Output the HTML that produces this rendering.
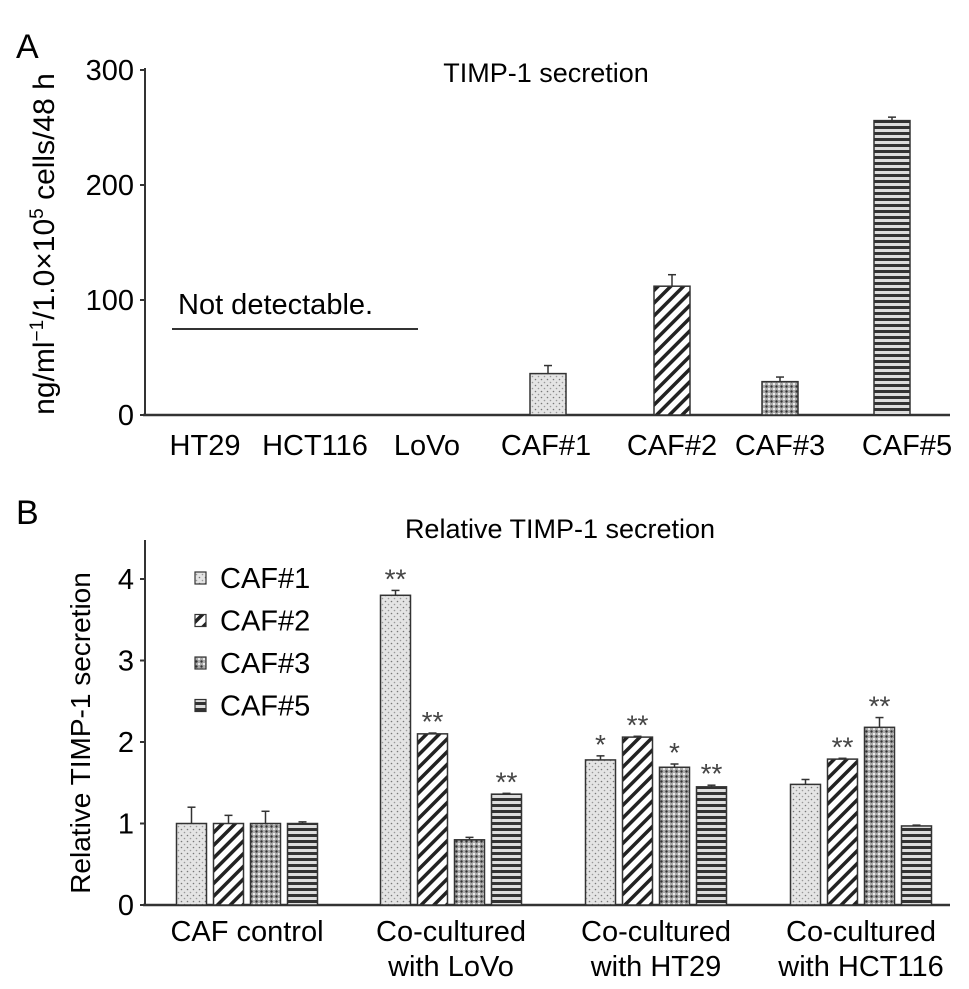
<!DOCTYPE html>
<html><head><meta charset="utf-8"><style>
body{margin:0;background:#fff}
svg{display:block;font-family:"Liberation Sans",sans-serif}
</style></head><body>
<svg id="c" width="969" height="989" viewBox="0 0 969 989">
<defs>
<pattern id="p1" width="6" height="6" patternUnits="userSpaceOnUse"><rect width="6" height="6" fill="#e4e4e4"/><circle cx="1.5" cy="1.5" r="0.8" fill="#777"/><circle cx="4.5" cy="4.5" r="0.8" fill="#999"/></pattern>
<pattern id="p2" width="9" height="9" patternUnits="userSpaceOnUse" patternTransform="rotate(45)"><rect width="9" height="9" fill="#fff"/><rect width="3.5" height="9" fill="#222"/></pattern>
<pattern id="p3" width="5" height="5" patternUnits="userSpaceOnUse"><rect width="5" height="5" fill="#aaa"/><circle cx="1.5" cy="1.5" r="1.2" fill="#333"/><circle cx="4" cy="4" r="1" fill="#fff"/></pattern>
<pattern id="p5" width="6" height="6" patternUnits="userSpaceOnUse"><rect width="6" height="6" fill="#ddd"/><rect y="0" width="6" height="3" fill="#333"/></pattern>
</defs>
<g id="A"></g><g id="B"></g>
</svg>
<script>
const NS="http://www.w3.org/2000/svg";
function mk(p,t,a,txt){const e=document.createElementNS(NS,t);for(const k in a)e.setAttribute(k,a[k]);if(txt!=null)e.textContent=txt;p.appendChild(e);return e;}
// Panel A data
const aCats=["HT29","HCT116","LoVo","CAF#1","CAF#2","CAF#3","CAF#5"];
const aVals=[null,null,null,36,112,29,256];
const aErr=[0,0,0,7,10,4,3];
const aTicks=[0,100,200,300];
const aPat=[null,null,null,"p1","p2","p3","p5"];
// Panel B data
const bGroups=["CAF control","Co-cultured|with LoVo","Co-cultured|with HT29","Co-cultured|with HCT116"];
const bSeries=["CAF#1","CAF#2","CAF#3","CAF#5"];
const bCaf1=[1,3.8,1.78,1.48];
const bCaf2=[1,2.1,2.06,1.79];
const bCaf3=[1,0.8,1.69,2.18];
const bCaf5=[1,1.36,1.45,0.97];
const bErr1=[0.2,0.06,0.05,0.06];
const bErr2=[0.1,0.01,0.01,0.01];
const bErr3=[0.15,0.03,0.04,0.12];
const bErr5=[0.02,0.01,0.02,0.01];
const bStars1=["","**","*",""];
const bStars2=["","**","**","**"];
const bStars3=["","","*","**"];
const bStars5=["","**","**",""];
const bTicks=[0,1,2,3,4];

const A=document.getElementById("A"),B=document.getElementById("B");
// ----- Panel A
const ay=v=>415-v*1.15;
const ax=i=>[205,315,427,546,672,780,907][i];
const bxA=i=>[205,315,427,548,672,780,892][i];
let t=mk(A,"text",{x:16,y:58,"font-size":34},"A");
t=mk(A,"text",{x:546,y:82,"font-size":27,"text-anchor":"middle"},"TIMP-1 secretion");
t=mk(A,"line",{x1:145,y1:68,x2:145,y2:415,stroke:"#333","stroke-width":2});
t=mk(A,"line",{x1:143,y1:415,x2:950,y2:415,stroke:"#333","stroke-width":2.5});
aTicks.forEach(v=>{mk(A,"line",{x1:140,y1:ay(v),x2:145,y2:ay(v),stroke:"#333","stroke-width":2});
 const e=mk(A,"text",{x:134,y:ay(v)+10,"font-size":29,"text-anchor":"end"},v);});
t=mk(A,"text",{transform:"translate(54,244) rotate(-90)","font-size":30,"text-anchor":"middle"});
t.innerHTML='ng/ml<tspan dy="-11" font-size="19">−1</tspan><tspan dy="11">/1.0×10</tspan><tspan dy="-11" font-size="19">5</tspan><tspan dy="11"> cells/48 h</tspan>';

aCats.forEach((c,i)=>{const e=mk(A,"text",{x:ax(i),y:455,"font-size":29,"text-anchor":"middle"},c);
 if(aVals[i]==null)return;
 const x=bxA(i),top=ay(aVals[i]),et=ay(aVals[i]+aErr[i]);
 mk(A,"line",{x1:x,y1:top,x2:x,y2:et,stroke:"#333","stroke-width":1.5});
 mk(A,"line",{x1:x-4,y1:et,x2:x+4,y2:et,stroke:"#333","stroke-width":1.5});
 const r=mk(A,"rect",{x:x-18,y:top,width:36,height:415-top,fill:"url(#"+aPat[i]+")",stroke:"#333","stroke-width":1.5});
 });
t=mk(A,"text",{x:178,y:314,"font-size":29},"Not detectable.");
t=mk(A,"line",{x1:172,y1:329,x2:418,y2:329,stroke:"#333","stroke-width":2});
// ----- Panel B
const by=v=>905-v*81.5;
const gc=g=>[247,451,656,861][g];
const bx=(g,s)=>gc(g)+(s-1.5)*37;
t=mk(B,"text",{x:16,y:524,"font-size":34},"B");
t=mk(B,"text",{x:560,y:538,"font-size":27,"text-anchor":"middle"},"Relative TIMP-1 secretion");
t=mk(B,"line",{x1:145,y1:540,x2:145,y2:905,stroke:"#333","stroke-width":2});
t=mk(B,"line",{x1:143,y1:905,x2:950,y2:905,stroke:"#333","stroke-width":2.5});
bTicks.forEach(v=>{mk(B,"line",{x1:140,y1:by(v),x2:145,y2:by(v),stroke:"#333","stroke-width":2});
 const e=mk(B,"text",{x:134,y:by(v)+10,"font-size":29,"text-anchor":"end"},v);});
t=mk(B,"text",{transform:"translate(90,733) rotate(-90)","font-size":28,"text-anchor":"middle"},"Relative TIMP-1 secretion");
const vals=[bCaf1,bCaf2,bCaf3,bCaf5],errs=[bErr1,bErr2,bErr3,bErr5],stars=[bStars1,bStars2,bStars3,bStars5],pats=["p1","p2","p3","p5"];
bGroups.forEach((g,gi)=>{
 const lines=g.split("|");
 lines.forEach((l,li)=>{const e=mk(B,"text",{x:gc(gi),y:941+li*35,"font-size":29,"text-anchor":"middle"},l);});
 for(let s=0;s<4;s++){
  const v=vals[s][gi],x=bx(gi,s),top=by(v),et=by(v+errs[s][gi]);
  mk(B,"line",{x1:x,y1:top,x2:x,y2:et,stroke:"#333","stroke-width":1.5});
  mk(B,"line",{x1:x-4,y1:et,x2:x+4,y2:et,stroke:"#333","stroke-width":1.5});
  const r=mk(B,"rect",{x:x-15,y:top,width:30,height:905-top,fill:"url(#"+pats[s]+")",stroke:"#333","stroke-width":1.5});
  
  if(stars[s][gi]){const st=mk(B,"text",{x:x,y:et-2,"font-size":28,"text-anchor":"middle",fill:"#444"},stars[s][gi]);
   }
 }
});
bSeries.forEach((s,i)=>{const y=578+i*42.5;
 const r=mk(B,"rect",{x:195,y:y-6,width:11,height:12,fill:"url(#"+pats[i]+")",stroke:"#333","stroke-width":1.2});
 
 const e=mk(B,"text",{x:220,y:y+10,"font-size":29},s);});
</script>
</body></html>
